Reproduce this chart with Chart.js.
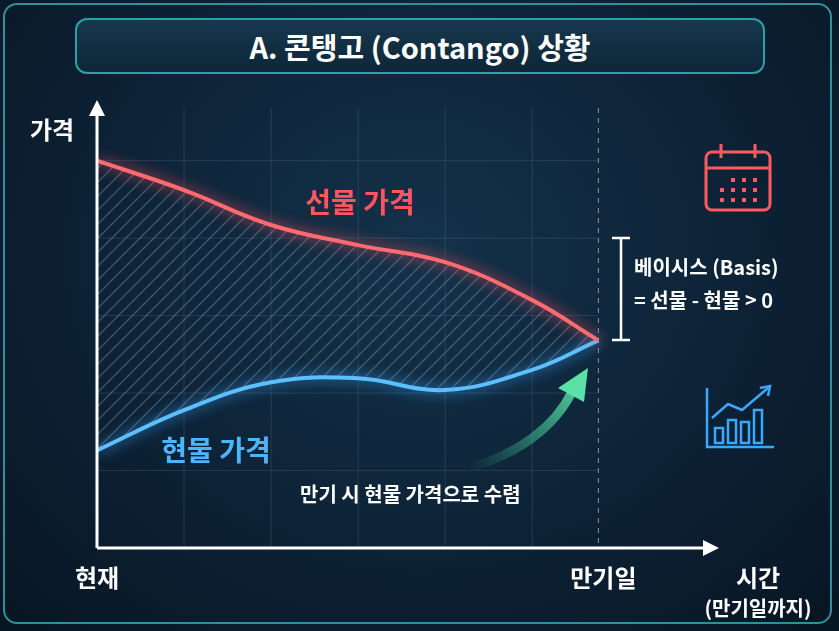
<!DOCTYPE html>
<html><head><meta charset="utf-8">
<script src="https://cdn.jsdelivr.net/npm/chart.js@4"></script>
<style>
html,body{margin:0;padding:0;background:#0a1726;}
#wrap{position:absolute;left:0;top:0;width:839px;height:631px;overflow:hidden;
background:radial-gradient(ellipse at 50% 40%,#14324a 0%,#0d2236 55%,#081522 100%);}
#frame{position:absolute;left:3px;top:3px;width:829px;height:621px;border:2px solid #2f8f9a;border-radius:14px;box-sizing:border-box;}
#title{position:absolute;left:75px;top:18px;width:690px;height:56px;border:2px solid #2fa0a8;border-radius:12px;
background:linear-gradient(#17384d,#0e2638);box-sizing:border-box;color:#fff;font:bold 29px "Noto Sans CJK KR";
text-align:center;line-height:52px;}
canvas{position:absolute;left:0;top:0;}
</style></head><body>
<div id="wrap"><div id="frame"></div><div id="title">A. 콘탱고 (Contango) 상황</div>
<canvas id="c" width="839" height="631"></canvas></div>
<script>
const timePoints=[0,1,2,3,4,5,5.76];
const futuresPrice=[5.0,4.62,4.17,3.91,3.69,3.2,2.68];
const spotPrice=[1.26,1.78,2.14,2.19,2.04,2.30,2.68];
const xLabels=['현재','만기일'];

const pc=document.createElement('canvas');pc.width=14;pc.height=14;
const p=pc.getContext('2d');p.strokeStyle='rgba(150,170,190,0.35)';p.lineWidth=1.5;
p.beginPath();p.moveTo(-2,16);p.lineTo(16,-2);p.moveTo(-2,2);p.lineTo(2,-2);p.moveTo(12,16);p.lineTo(16,12);p.stroke();
const pattern=p.createPattern?null:null;
const ctxMain=document.getElementById('c').getContext('2d');
const hatch=ctxMain.createPattern(pc,'repeat');

const deco={id:'deco',
beforeDatasetsDraw(ch){const c=ch.ctx,x=ch.scales.x,y=ch.scales.y;c.save();
 const x0=x.getPixelForValue(0),xm=x.getPixelForValue(5.76),y0=y.getPixelForValue(0);
 c.strokeStyle='rgba(120,150,180,0.22)';c.lineWidth=1;
 for(let i=1;i<=5;i++){const px=x.getPixelForValue(i);c.beginPath();c.moveTo(px,y.getPixelForValue(5.68));c.lineTo(px,y0);c.stroke();}
 for(let j=1;j<=5;j++){const py=y.getPixelForValue(j);c.beginPath();c.moveTo(x0,py);c.lineTo(xm,py);c.stroke();}
 c.setLineDash([5,5]);c.strokeStyle='rgba(220,220,220,0.6)';c.beginPath();c.moveTo(xm,y.getPixelForValue(5.68));c.lineTo(xm,y0);c.stroke();c.setLineDash([]);
 c.restore();},
beforeDatasetDraw(ch,a){const c=ch.ctx;c.save();c.shadowBlur=14;c.shadowColor=a.index===0?'#ff4d5a':'#3aa8ff';},
afterDatasetDraw(ch){ch.ctx.restore();},
afterDatasetsDraw(ch){const c=ch.ctx,x=ch.scales.x,y=ch.scales.y;c.save();
 const x0=x.getPixelForValue(0),xe=x.getPixelForValue(7.1),y0=y.getPixelForValue(0),yt=y.getPixelForValue(5.68),xm=x.getPixelForValue(5.76);
 c.strokeStyle='#fff';c.fillStyle='#fff';c.lineWidth=3;
 c.beginPath();c.moveTo(x0,y0);c.lineTo(xe-8,y0);c.moveTo(x0,y0);c.lineTo(x0,yt+8);c.stroke();
 c.beginPath();c.moveTo(xe+4,y0);c.lineTo(xe-12,y0-8);c.lineTo(xe-12,y0+8);c.fill();
 c.beginPath();c.moveTo(x0,yt-8);c.lineTo(x0-8,yt+8);c.lineTo(x0+8,yt+8);c.fill();
 c.font='bold 24px "Noto Sans CJK KR"';c.textAlign='center';c.textBaseline='middle';
 c.fillText('가격',52,130);c.fillText(xLabels[0],x0,578);c.fillText(xLabels[1],xm+5,578);
 c.fillText('시간',758,578);c.font='bold 20px "Noto Sans CJK KR"';c.fillText('(만기일까지)',758,608);
 c.font='bold 28px "Noto Sans CJK KR"';c.fillStyle='#ff5560';c.fillText('선물 가격',360,202);
 c.fillStyle='#4fb4ff';c.fillText('현물 가격',216,450);
 c.fillStyle='#fff';c.font='bold 20px "Noto Sans CJK KR"';c.textAlign='left';
 c.fillText('베이시스 (Basis)',634,267);c.fillText('= 선물 - 현물 > 0',634,300);
 c.fillText('만기 시 현물 가격으로 수렴',300,494);
 c.lineWidth=2.5;c.beginPath();c.moveTo(612,238);c.lineTo(630,238);c.moveTo(621,238);c.lineTo(621,340);c.moveTo(612,340);c.lineTo(630,340);c.stroke();
 // green arrow
 const g=c.createLinearGradient(470,470,585,372);g.addColorStop(0,'rgba(60,200,150,0)');g.addColorStop(1,'#5be0a8');
 c.strokeStyle=g;c.lineWidth=9;c.lineCap='round';c.beginPath();c.moveTo(470,468);c.quadraticCurveTo(545,445,572,392);c.stroke();
 c.fillStyle='#5be0a8';c.beginPath();c.moveTo(588,368);c.lineTo(558,388);c.lineTo(584,402);c.fill();
 // calendar icon
 c.strokeStyle='#ff5a60';c.lineWidth=3;c.lineCap='butt';
 c.beginPath();c.roundRect(706,152,64,58,6);c.stroke();c.beginPath();c.moveTo(706,168);c.lineTo(770,168);c.stroke();
 c.beginPath();c.moveTo(721,144);c.lineTo(721,158);c.moveTo(755,144);c.lineTo(755,158);c.stroke();
 c.fillStyle='#ff5a60';for(let r=0;r<3;r++)for(let k=0;k<4;k++){if(r==0&&k==0)continue;c.fillRect(720+k*11,178+r*10,4,4);}
 // chart icon
 c.strokeStyle='#3aa8ff';c.lineWidth=2.5;
 c.beginPath();c.moveTo(707,388);c.lineTo(707,447);c.lineTo(774,447);c.stroke();
 [[715,428],[728,420],[741,422],[754,410]].forEach(b=>{c.strokeRect(b[0],b[1],8,447-b[1]-4);});
 c.beginPath();c.moveTo(712,418);c.lineTo(728,404);c.lineTo(742,410);c.lineTo(768,388);c.stroke();
 c.beginPath();c.moveTo(760,388);c.lineTo(770,386);c.lineTo(768,396);c.stroke();
 c.restore();}};

new Chart(ctxMain,{type:'line',
data:{datasets:[
 {data:futuresPrice.map((v,i)=>({x:timePoints[i],y:v})),borderColor:'#ff6b70',borderWidth:4,tension:0.4,pointRadius:0,fill:false},
 {data:spotPrice.map((v,i)=>({x:timePoints[i],y:v})),borderColor:'#5cc0ff',borderWidth:4,tension:0.4,pointRadius:0,fill:{target:0},backgroundColor:hatch}
]},
options:{responsive:false,animation:false,layout:{padding:{left:97,right:124,top:108,bottom:83}},
 plugins:{legend:{display:false},tooltip:{enabled:false}},
 scales:{x:{type:'linear',min:0,max:7.1,display:false},y:{min:0,max:5.68,display:false}}},
plugins:[deco]});
</script></body></html>
